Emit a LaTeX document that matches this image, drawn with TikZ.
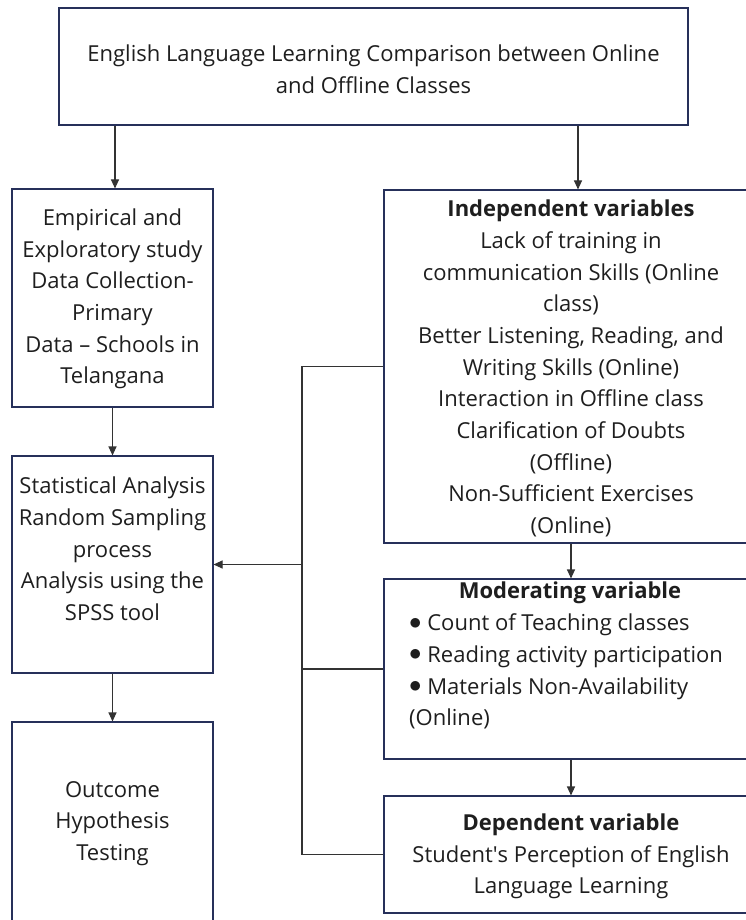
\documentclass[tikz,border=0pt]{standalone}
\usepackage{fontspec}
\setmainfont{Open Sans}
\usetikzlibrary{arrows.meta}
\definecolor{boxblue}{HTML}{26305A}
\definecolor{linegray}{HTML}{333333}
\definecolor{textgray}{HTML}{1E1E1E}
\newcommand{\modbullet}{\raisebox{1.5pt}{\scalebox{1.2}{$\bullet$}}}

\begin{document}
\begin{tikzpicture}
	[
	x=1pt, y=-1pt,
	font=\fontsize{22}{31.7}\selectfont,
	box/.style={rectangle, draw=boxblue, line width=1.1pt, inner sep=0pt},
	txt/.style={align=center, inner sep=0pt, text=textgray},
	link/.style={draw=linegray, line width=1.1pt},
	arr/.style={link, -{Triangle[length=9pt, width=8pt]}}
	]
		\useasboundingbox (0,0) rectangle (745,920);

		% top
		\node (top) [box, minimum width=629pt, minimum height=117pt] at (373.5, 66.5) {};
		\node (topt) [txt] at (373.5, 69) {English Language Learning Comparison between Online\\and Offline Classes};

		% left
		\node (emp) [box, minimum width=201pt, minimum height=218pt] at (112.5, 298) {};
		\node (stat) [box, minimum width=201pt, minimum height=217pt] at (112.5, 564.5) {};
		\node (out) [box, minimum width=201pt, minimum height=238pt] at (112.5, 841) {};

		\node (empt) [txt] at (112.5, 299) {Empirical and\\Exploratory study\\Data Collection-\\Primary\\Data -- Schools in\\Telangana};
		\node (statt) [txt] at (112.5, 549) {Statistical Analysis\\Random Sampling\\process\\Analysis using the\\SPSS tool};
		\node (outt) [txt] at (112.5, 823.5) {Outcome\\Hypothesis\\Testing};

		% right
		\node (ind) [box, minimum width=374pt, minimum height=353pt] at (571, 366.5) {};
		\node (mod) [box, minimum width=374pt, minimum height=180pt] at (571, 669) {};
		\node (dep) [box, minimum width=374pt, minimum height=117pt] at (571, 854.5) {};

		\node (indt) [txt] at (571, 368.5) {\textbf{Independent variables}\\Lack of training in\\communication Skills (Online\\class)\\Better Listening, Reading, and\\Writing Skills (Online)\\Interaction in Offline class\\Clarification of Doubts\\(Offline)\\Non-Sufficient Exercises\\(Online)};
		\node (modt) [txt] at (570, 593) {\textbf{Moderating variable}};
		\node (modl) [txt, align=left, anchor=west] at (409, 671.5) {\modbullet\ Count of Teaching classes\\\modbullet\ Reading activity participation\\\modbullet\ Materials Non-Availability\\(Online)};
		\node (dept) [txt] at (571, 856.5) {\textbf{Dependent variable}\\Student\textquotesingle s Perception of English\\Language Learning};

		% drawing code
		\coordinate (bus) at (302, 0);
		\draw [arr] (top.south -| 115,0) -- (emp.north -| 115,0);
		\draw [arr] (top.south -| 578,0) -- (ind.north -| 578,0);
		\foreach \from/\to in {emp/stat,stat/out,ind/mod,mod/dep}
			\draw [arr] (\from.south -| \to.north) -- (\to.north);
		\draw [link] (ind.west) -| (bus |- dep.west) -- (dep.west);
		\draw [link] (mod.west) -- (bus |- mod.west);
		\draw [arr] (bus |- stat.east) -- (stat.east);
	\end{tikzpicture}
\end{document}
